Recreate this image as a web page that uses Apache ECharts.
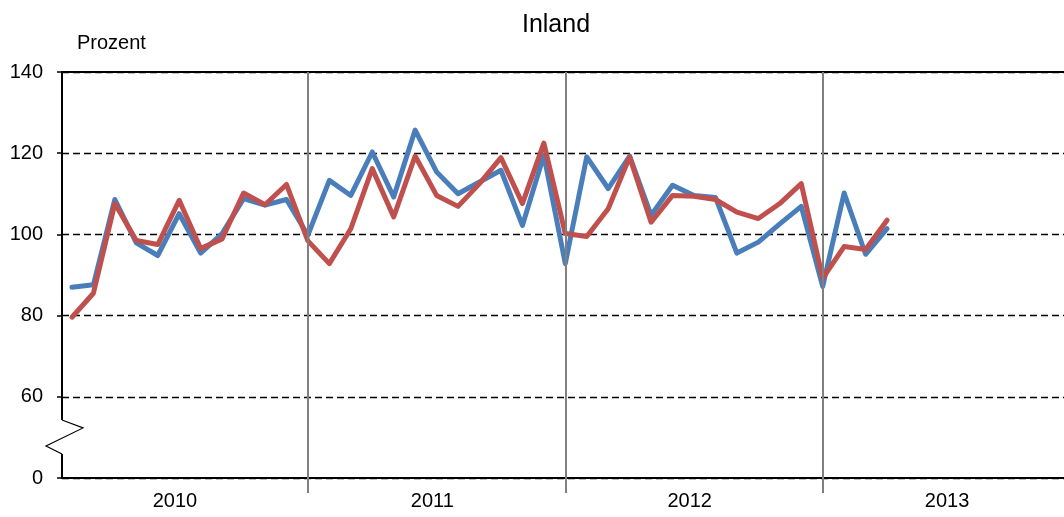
<!DOCTYPE html>
<html><head><meta charset="utf-8">
<script src="https://cdn.jsdelivr.net/npm/echarts@6/dist/echarts.min.js"></script>
<style>html,body{margin:0;padding:0;background:#fff}#c{width:1064px;height:517px}</style>
</head><body><div id="c"></div>
<script>
const titleText = 'Inland';
const unitText = 'Prozent';
const months = [
  '2010-02','2010-03','2010-04','2010-05','2010-06','2010-07','2010-08','2010-09','2010-10','2010-11','2010-12','2011-01',
  '2011-02','2011-03','2011-04','2011-05','2011-06','2011-07','2011-08','2011-09','2011-10','2011-11','2011-12','2012-01',
  '2012-02','2012-03','2012-04','2012-05','2012-06','2012-07','2012-08','2012-09','2012-10','2012-11','2012-12','2013-01',
  '2013-02','2013-03','2013-04'
];
const seriesBlue = [
  87.0, 87.6, 108.6, 97.9, 94.8, 105.1, 95.4, 100.2, 108.8, 107.2, 108.6, 99.8,
  113.3, 109.6, 120.3, 109.2, 125.7, 115.4, 110.0, 112.9, 115.8, 102.2, 119.5, 92.8,
  119.1, 111.3, 119.3, 104.7, 112.1, 109.6, 109.1, 95.4, 98.1, 102.6, 106.9, 87.2,
  110.2, 95.1, 101.4
];
const seriesRed = [
  79.6, 85.5, 107.6, 98.5, 97.5, 108.4, 96.5, 98.9, 110.2, 107.3, 112.3, 98.4,
  92.8, 101.4, 116.2, 104.3, 119.3, 109.6, 106.9, 112.5, 118.9, 107.6, 122.5, 100.2,
  99.5, 106.3, 119.1, 103.0, 109.6, 109.4, 108.6, 105.5, 103.9, 107.6, 112.5, 89.2,
  97.0, 96.3, 103.5
];
const years = ['2010', '2011', '2012', '2013'];
// y axis: internal value 40 is displayed as "0" (axis break between 0 and 60)
const yTickValues = [40, 60, 80, 100, 120, 140];
const yTickLabels = ['0', '60', '80', '100', '120', '140'];

const FONT = "'Liberation Sans', Arial, sans-serif";
const BASE_YEAR = 2010;
function monthIndex(m) {
  const p = m.split('-');
  return (parseInt(p[0], 10) - BASE_YEAR) * 12 + (parseInt(p[1], 10) - 1);
}
const blueData = months.map((m, i) => [monthIndex(m), seriesBlue[i]]);
const redData = months.map((m, i) => [monthIndex(m), seriesRed[i]]);
const yearStarts = years.slice(1).map((y, i) => (i + 1) * 12);
const yearCenters = years.map((y, i) => i * 12 + 5.8);

const X_MIN = 0.536, X_MAX = 47.25;

const chart = echarts.init(document.getElementById('c'), null, {renderer: 'canvas'});
const option = {
  animation: false,
  backgroundColor: '#ffffff',
  grid: {left: 62, right: 0, top: 72, bottom: 39, containLabel: false},
  xAxis: [{
    type: 'value', min: X_MIN, max: X_MAX, position: 'bottom',
    axisLine: {show: true, onZero: false, lineStyle: {color: '#000', width: 2}},
    axisTick: {show: true, customValues: yearStarts, length: 15, inside: false,
      lineStyle: {color: '#808080', width: 2}},
    axisLabel: {show: true, customValues: yearCenters, margin: 13, color: '#000',
      fontSize: 20, fontFamily: FONT,
      formatter: v => years[Math.floor(v / 12)]},
    splitLine: {show: false}
  }, {
    type: 'value', min: X_MIN, max: X_MAX, position: 'top',
    axisLine: {show: true, onZero: false, lineStyle: {color: '#000', width: 2}},
    axisTick: {show: false}, axisLabel: {show: false}, splitLine: {show: false}
  }],
  yAxis: {
    type: 'value', min: 40, max: 140, interval: 20,
    axisLine: {show: true, onZero: false, lineStyle: {color: '#000', width: 2}},
    axisTick: {show: true, length: 5, lineStyle: {color: '#000', width: 1.5}},
    axisLabel: {margin: 19, color: '#000', fontSize: 20, fontFamily: FONT,
      formatter: v => yTickLabels[yTickValues.indexOf(v)]},
    splitLine: {show: true, lineStyle: {color: '#000', width: 1.4, type: [7, 4]}}
  },
  series: [{
    name: 'blue', type: 'line', data: blueData, showSymbol: false, symbol: 'none',
    lineStyle: {color: '#4a7ebb', width: 5, join: 'round', cap: 'round'},
    itemStyle: {color: '#4a7ebb'},
    markLine: {silent: true, symbol: ['none', 'none'], label: {show: false},
      lineStyle: {color: '#808080', width: 2, type: 'solid'},
      data: yearStarts.map(v => ({xAxis: v}))}
  }, {
    name: 'red', type: 'line', data: redData, showSymbol: false, symbol: 'none',
    lineStyle: {color: '#c0504d', width: 5, join: 'round', cap: 'round'},
    itemStyle: {color: '#c0504d'}
  }]
};
chart.setOption(option);

// axis break decoration and texts
const ax = chart.convertToPixel({xAxisIndex: 0}, X_MIN);
const yA = chart.convertToPixel({yAxisIndex: 0}, 54.3);
const yB = chart.convertToPixel({yAxisIndex: 0}, 45.9);
chart.setOption({
  graphic: [
    {type: 'rect', shape: {x: ax - 3, y: yA, width: 6, height: yB - yA}, style: {fill: '#fff'}, z: 100},
    {type: 'polyline', shape: {points: [[ax, yA], [ax + 21, yA + 8], [ax - 16, yA + 26], [ax, yB]]},
      style: {stroke: '#000', lineWidth: 1.2, fill: null}, z: 101},
    {type: 'text', x: 556, y: 25, z: 101,
      style: {text: titleText, fontSize: 25, fontFamily: FONT, fill: '#000', align: 'center', verticalAlign: 'middle'}},
    {type: 'text', x: 77, y: 43, z: 101,
      style: {text: unitText, fontSize: 20, fontFamily: FONT, fill: '#000', align: 'left', verticalAlign: 'middle'}}
  ]
});
</script></body></html>
